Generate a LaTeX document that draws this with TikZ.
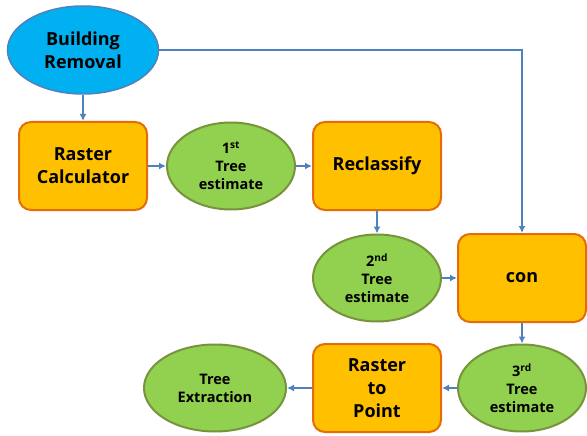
\documentclass[tikz,border=0pt]{standalone}
\usepackage{fontspec}
\setmainfont{Open Sans}
\usepackage{tikz}
\usetikzlibrary{arrows.meta}
\usetikzlibrary{shapes.geometric}
\definecolor{flowblue}{HTML}{4F81BD}
\definecolor{skyfill}{HTML}{00B0F0}
\definecolor{toolfill}{HTML}{FFC000}
\definecolor{tooldraw}{HTML}{E46C0A}
\definecolor{datafill}{HTML}{92D050}
\definecolor{datadraw}{HTML}{77933C}
\tikzset{
    basenode/.style = {align=center, inner sep=0pt, text centered},
    input_node/.style = {basenode, ellipse, draw=flowblue, fill=skyfill, line width=1.5pt, minimum width=151pt, minimum height=88pt, font=\fontsize{18}{23}\selectfont\bfseries},
    tool_node/.style = {basenode, rectangle, rounded corners=12pt, draw=tooldraw, fill=toolfill, line width=2pt, minimum width=128pt, minimum height=88pt, font=\fontsize{18}{23}\selectfont\bfseries},
    data_node/.style = {basenode, ellipse, draw=datadraw, fill=datafill, line width=2pt, minimum width=128pt, minimum height=87pt, font=\fontsize{14.5}{18}\selectfont\bfseries},
    flow/.style = {draw=flowblue, line width=1.8pt, -{Latex[length=7pt,width=7pt]}}
}
\begin{document}
\begin{tikzpicture}[x=1pt, y=-1pt]
    \useasboundingbox (0,0) rectangle (587,436);
    % nodes
    \node [input_node] (removal) at (83,50) {Building\\Removal};
    \node [tool_node] (rastercalc) at (83,166) {Raster\\Calculator};
    \node [data_node] (first) at (231,166) {1\textsuperscript{st}\\Tree\\estimate};
    \node [tool_node] (reclass) at (377,166) {Reclassify};
    \node [data_node] (second) at (377,278) {2\textsuperscript{nd}\\Tree\\estimate};
    \node [tool_node] (con) at (522,278) {con};
    \node [data_node] (third) at (522,388) {3\textsuperscript{rd}\\Tree\\estimate};
    \node [tool_node] (topoint) at (377,388) {Raster\\to\\Point};
    \node [data_node, minimum width=142pt] (extract) at (215,388) {Tree\\Extraction};
    % connectors
    \draw [flow] (removal) -- (rastercalc);
    \draw [flow] (rastercalc) -- (first);
    \draw [flow] (first) -- (reclass);
    \draw [flow] (reclass) -- (second);
    \draw [flow] (removal.east) -| (con.north);
    \draw [flow] (second) -- (con);
    \draw [flow] (con) -- (third);
    \draw [flow] (third) -- (topoint);
    \draw [flow] (topoint) -- (extract);
\end{tikzpicture}
\end{document}
